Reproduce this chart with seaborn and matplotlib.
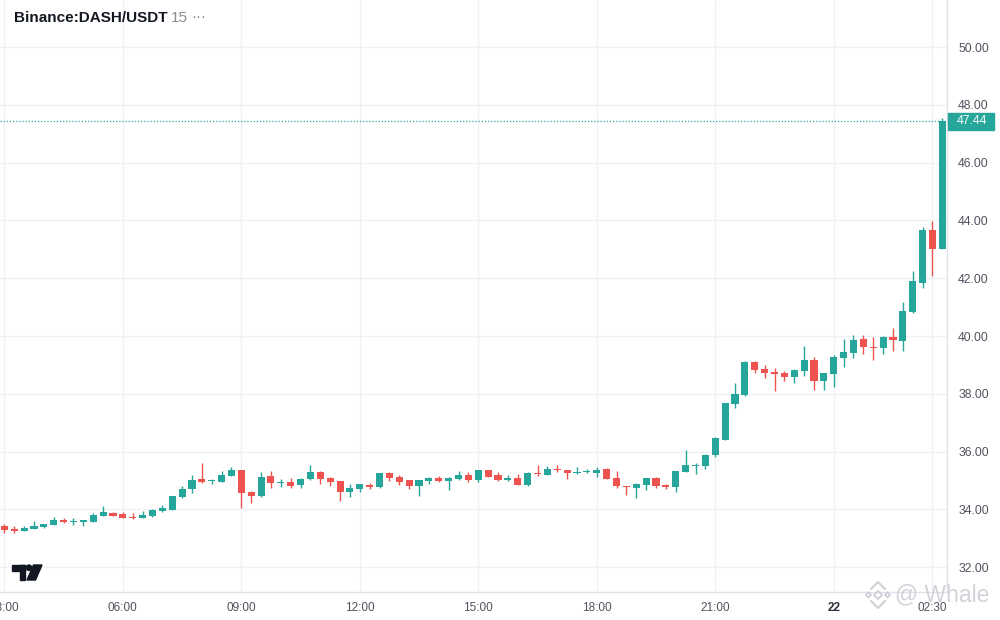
import matplotlib
matplotlib.use("Agg")
import matplotlib.pyplot as plt
import seaborn as sns
import numpy as np
import pandas as pd
from matplotlib.patches import Polygon, Rectangle, Circle

# ---------------- data (15-minute candles, Binance:DASH/USDT) ----------------
opens = [33.43, 33.33, 33.26, 33.32, 33.39, 33.47, 33.63, 33.58, 33.58, 33.56,
         33.77, 33.88, 33.84, 33.74, 33.71, 33.78, 33.94, 33.99, 34.42, 34.72,
         35.05, 34.97, 34.96, 35.17, 35.36, 34.60, 34.47, 35.16, 34.92, 34.95,
         34.86, 35.06, 35.29, 35.09, 34.98, 34.61, 34.72, 34.84, 34.77, 35.26,
         35.12, 35.02, 34.82, 34.99, 35.09, 34.99, 35.06, 35.19, 35.03, 35.36,
         35.19, 35.02, 35.09, 34.84, 35.26, 35.19, 35.40, 35.36, 35.27, 35.31,
         35.26, 35.40, 35.09, 34.81, 34.74, 34.84, 35.09, 34.86, 34.78, 35.29,
         35.50, 35.50, 35.88, 36.40, 37.65, 37.96, 39.10, 38.86, 38.75, 38.72,
         38.58, 38.79, 39.17, 38.45, 38.69, 39.24, 39.41, 39.90, 39.62, 39.59,
         39.97, 39.83, 40.83, 41.83, 43.67, 43.01]
highs = [33.48, 33.41, 33.43, 33.60, 33.49, 33.74, 33.70, 33.70, 33.63, 33.88,
         34.12, 33.91, 33.91, 33.88, 33.94, 34.01, 34.15, 34.46, 34.81, 35.19,
         35.60, 35.05, 35.33, 35.47, 35.36, 34.65, 35.29, 35.33, 35.05, 35.09,
         35.07, 35.54, 35.33, 35.12, 34.98, 34.88, 34.88, 34.91, 35.26, 35.29,
         35.19, 35.02, 35.02, 35.12, 35.16, 35.12, 35.33, 35.29, 35.36, 35.36,
         35.29, 35.19, 35.23, 35.29, 35.54, 35.50, 35.54, 35.36, 35.47, 35.41,
         35.47, 35.43, 35.33, 34.81, 34.91, 35.09, 35.12, 34.88, 35.33, 36.06,
         35.61, 35.92, 36.51, 37.68, 38.37, 39.14, 39.14, 39.00, 38.89, 38.79,
         38.86, 39.65, 39.27, 38.72, 39.34, 39.90, 40.03, 40.03, 39.97, 40.00,
         40.28, 41.18, 42.25, 43.77, 43.98, 47.54]
lows = [33.19, 33.19, 33.26, 33.32, 33.37, 33.47, 33.52, 33.46, 33.44, 33.56,
        33.77, 33.78, 33.71, 33.67, 33.71, 33.75, 33.92, 33.99, 34.39, 34.58,
        34.91, 34.89, 34.94, 35.17, 34.06, 34.23, 34.44, 34.75, 34.79, 34.75,
        34.74, 35.03, 34.89, 34.82, 34.30, 34.44, 34.61, 34.72, 34.74, 34.99,
        34.86, 34.72, 34.47, 34.89, 34.93, 34.68, 35.03, 34.96, 34.93, 35.12,
        34.98, 34.98, 34.84, 34.82, 35.17, 35.19, 35.29, 35.05, 35.22, 35.26,
        35.12, 35.05, 34.74, 34.50, 34.41, 34.67, 34.75, 34.72, 34.60, 35.29,
        35.23, 35.40, 35.81, 36.40, 37.51, 37.92, 38.72, 38.55, 38.10, 38.44,
        38.37, 38.62, 38.13, 38.13, 38.25, 38.93, 39.24, 39.38, 39.17, 39.38,
        39.48, 39.48, 40.80, 41.66, 42.08, 43.01]
closes = [33.29, 33.26, 33.36, 33.43, 33.49, 33.63, 33.55, 33.61, 33.63, 33.81,
          33.91, 33.78, 33.71, 33.70, 33.81, 33.98, 34.05, 34.46, 34.71, 35.02,
          34.96, 35.03, 35.19, 35.36, 34.58, 34.47, 35.12, 34.92, 34.96, 34.82,
          35.05, 35.29, 35.04, 34.93, 34.61, 34.74, 34.88, 34.77, 35.26, 35.09,
          34.95, 34.82, 35.02, 35.09, 34.99, 35.09, 35.19, 35.02, 35.36, 35.12,
          35.02, 35.09, 34.84, 35.26, 35.23, 35.40, 35.36, 35.26, 35.31, 35.34,
          35.36, 35.05, 34.81, 34.77, 34.88, 35.09, 34.81, 34.78, 35.33, 35.54,
          35.54, 35.88, 36.47, 37.68, 37.99, 39.10, 38.82, 38.72, 38.69, 38.58,
          38.82, 39.17, 38.45, 38.72, 39.27, 39.45, 39.86, 39.62, 39.59, 39.97,
          39.86, 40.87, 41.90, 43.67, 43.01, 47.44]

# x tick labels (candle index where each label sits)
tick_pos = [0, 12, 24, 36, 48, 60, 72, 84, 94]
tick_labels = ["03:00", "06:00", "09:00", "12:00", "15:00", "18:00", "21:00", "22", "02:30"]
price_ticks = [32, 34, 36, 38, 40, 42, 44, 46, 48, 50]
last_price = 47.44

UP = "#26a69a"
DOWN = "#ef5350"
GRID = "#f0f1f4"
TEXT = "#50535e"

df = pd.DataFrame({"open": opens, "high": highs, "low": lows, "close": closes})
df["idx"] = np.arange(len(df))
df["up"] = df["close"] >= df["open"]
df["color"] = np.where(df["up"], UP, DOWN)
df["bottom"] = df[["open", "close"]].min(axis=1)
df["height"] = (df["close"] - df["open"]).abs().clip(lower=0.03)

# ---------------- figure ----------------
sns.set_theme(style="white")
plt.rcParams["font.family"] = ["Liberation Sans", "DejaVu Sans"]

W, H = 1000, 620
fig = plt.figure(figsize=(10, 6.2), dpi=100)
ax = fig.add_axes([0.0, 28 / H, 947 / W, 592 / H])

# wicks
ax.vlines(df["idx"], df["low"], df["high"], colors=df["color"], linewidth=1.0, zorder=3)
# bodies
ax.bar(df["idx"], df["height"], bottom=df["bottom"], width=0.72,
       color=df["color"], edgecolor="none", zorder=4)

ax.set_xlim(-0.44, 95.47)
ax.set_ylim(31.14, 51.63)

# grid
ax.set_xticks(tick_pos)
ax.set_yticks(price_ticks)
ax.grid(True, color=GRID, linewidth=1.0, zorder=0)
ax.set_axisbelow(True)

ax.yaxis.set_ticks_position("right")
ax.set_yticklabels([f"{v:.2f}" for v in price_ticks])
ax.tick_params(axis="y", length=0, pad=8, labelsize=8.8, labelcolor=TEXT)
ax.set_xticklabels(tick_labels)
ax.tick_params(axis="x", length=0, pad=7, labelsize=8.5, labelcolor=TEXT)
for lbl in ax.get_xticklabels():
    if lbl.get_text() == "22":
        lbl.set_fontweight("bold")
        lbl.set_color("#2a2e39")
for lbl in ax.get_yticklabels():
    lbl.set_horizontalalignment("left")

for side in ["top", "left"]:
    ax.spines[side].set_visible(False)
ax.spines["bottom"].set_color("#e0e3eb")
ax.spines["right"].set_color("#e0e3eb")
ax.spines["bottom"].set_linewidth(1.0)
ax.spines["right"].set_linewidth(1.0)

# last price line
ax.axhline(last_price, color=UP, linewidth=0.9, linestyle=(0, (1, 1.5)), zorder=2)

# ---------------- overlay (price label, title, logos, watermark) ----------------
ov = fig.add_axes([0, 0, 1, 1], facecolor="none")
ov.set_xlim(0, W)
ov.set_ylim(H, 0)
ov.axis("off")

# price label positioned from the data value through the main axes transform
fig.canvas.draw()
py = H - ax.transData.transform((0, last_price))[1]
ov.add_patch(Rectangle((947.5, py - 8.5), 46, 17, color=UP, zorder=10))
ov.text(957, py, f"{last_price:.2f}", fontsize=8.8, color="white",
        va="center", ha="left", zorder=11)

ov.text(14, 18, "Binance:DASH/USDT", fontsize=11, fontweight="bold",
        color="#131722", va="center", ha="left")
ov.text(171, 18, "15", fontsize=11, color="#8a8d97", va="center", ha="left")
ov.text(191, 17, "\u00b7\u00b7\u00b7", fontsize=11, color="#8a8d97", va="center", ha="left")

# TradingView logo
dark = "#131722"
ov.add_patch(Rectangle((12, 565), 13, 5.5, color=dark))
ov.add_patch(Rectangle((19.5, 565), 5.5, 15, color=dark))
ov.add_patch(Circle((29, 567.7), 2.7, color=dark))
ov.add_patch(Polygon([(33.5, 565), (42, 565), (35.5, 580), (27, 580)], closed=True, color=dark))

# watermark (Binance-style mark + handle)
wm = "#c9ccd3"
cx, cy = 878, 595
def diamond(x, y, r, lw=1.4):
    ov.add_patch(Polygon([(x, y - r), (x + r, y), (x, y + r), (x - r, y)],
                         closed=True, fill=False, edgecolor=wm, linewidth=lw, alpha=0.85))
diamond(cx, cy, 4)
diamond(cx - 9.5, cy, 2.5)
diamond(cx + 9.5, cy, 2.5)
ov.plot([cx - 7, cx, cx + 7], [cy - 6, cy - 13, cy - 6], color=wm, lw=1.6, alpha=0.85)
ov.plot([cx - 7, cx, cx + 7], [cy + 6, cy + 13, cy + 6], color=wm, lw=1.6, alpha=0.85)
ov.text(895, 595, "@ Whale", fontsize=16.5, color=wm, alpha=0.85, va="center", ha="left")

fig.savefig("out.png", dpi=100)
